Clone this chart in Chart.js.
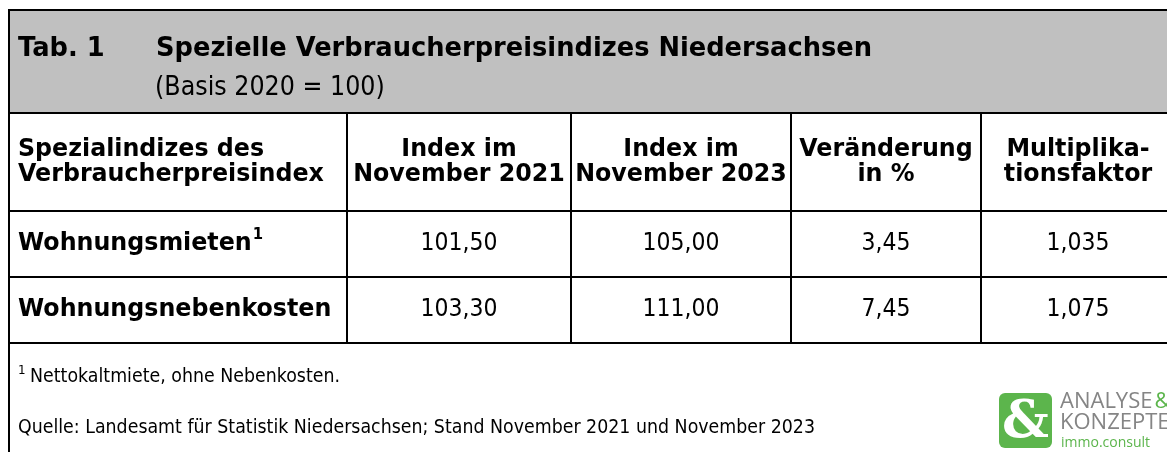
<!DOCTYPE html>
<html lang="de">
<head>
<meta charset="utf-8">
<title>Tab. 1 Spezielle Verbraucherpreisindizes Niedersachsen</title>
<script src="https://cdn.jsdelivr.net/npm/chart.js@4.4.1/dist/chart.umd.min.js"></script>
<style>
  html, body { margin: 0; padding: 0; background: #ffffff; }
  #wrap { width: 1167px; height: 452px; position: relative; overflow: hidden; }
  canvas { display: block; }
</style>
</head>
<body>
<div id="wrap"><canvas id="c" width="1167" height="452"></canvas></div>
<script>
// ---------- data ----------
const tableNo = 'Tab. 1';
const title = 'Spezielle Verbraucherpreisindizes Niedersachsen';
const subtitle = '(Basis 2020 = 100)';
const headerCol1 = ['Spezialindizes des', 'Verbraucherpreisindex'];
const headerCol2 = ['Index im', 'November 2021'];
const headerCol3 = ['Index im', 'November 2023'];
const headerCol4 = ['Veränderung', 'in %'];
const headerCol5 = ['Multiplika-', 'tionsfaktor'];
const categories = ['Wohnungsmieten', 'Wohnungsnebenkosten'];
const categoryMarks = ['1', ''];
const index2021 = [101.50, 103.30];
const index2023 = [105.00, 111.00];
const changePct = [3.45, 7.45];
const multiplier = [1.035, 1.075];
const decimals = [2, 2, 2, 3];
const footnote = 'Nettokaltmiete, ohne Nebenkosten.';
const footnoteMark = '1';
const source = 'Quelle: Landesamt für Statistik Niedersachsen; Stand November 2021 und November 2023';

// ---------- layout (page units) ----------
const W = 1167, H = 452;
const colEdges = [9, 347, 571, 791, 981, 1175];
const rowEdges = [10, 113, 211, 277, 343];

const valueSeries = [index2021, index2023, changePct, multiplier];
const headers = [headerCol1, headerCol2, headerCol3, headerCol4, headerCol5];
const colCenter = c => (colEdges[c] + colEdges[c + 1]) / 2;
const rowCenter = r => (rowEdges[r] + rowEdges[r + 1]) / 2;
const fmt = (v, d) => v.toFixed(d).replace('.', ',');

const FONT = '"DejaVu Sans", Verdana, sans-serif';
let sxBold = 0.9, sxReg = 0.9;

function txt(ctx, s, x, y, size, bold, align, color) {
  ctx.save();
  ctx.font = (bold ? 'bold ' : '') + size + 'px ' + FONT;
  ctx.fillStyle = color || '#000000';
  ctx.textBaseline = 'middle';
  ctx.textAlign = align || 'left';
  ctx.translate(x, y);
  ctx.scale(bold ? sxBold : sxReg, 1);
  ctx.fillText(s, 0, 0);
  const w = ctx.measureText(s).width * (bold ? sxBold : sxReg);
  ctx.restore();
  return w;
}

const tablePlugin = {
  id: 'tablePlugin',
  beforeDraw(chart) {
    const ctx = chart.ctx;
    const xs = chart.scales.x, ys = chart.scales.y;
    const px = v => xs.getPixelForValue(v), py = v => ys.getPixelForValue(v);
    // condense DejaVu to the narrower widths of the reference typeface
    ctx.save();
    ctx.font = 'bold 26px ' + FONT;
    sxBold = 716 / ctx.measureText(title).width;
    ctx.font = '19px ' + FONT;
    sxReg = 797 / ctx.measureText(source).width;
    ctx.restore();

    ctx.save();
    ctx.fillStyle = '#ffffff';
    ctx.fillRect(0, 0, chart.width, chart.height);
    // grey title band
    ctx.fillStyle = '#c0c0c0';
    ctx.fillRect(px(colEdges[0]), py(rowEdges[0]), px(W) - px(colEdges[0]), py(rowEdges[1]) - py(rowEdges[0]));
    // lines
    ctx.strokeStyle = '#000000';
    ctx.lineWidth = 2;
    ctx.beginPath();
    rowEdges.forEach(r => { ctx.moveTo(px(colEdges[0]) - 1, py(r)); ctx.lineTo(px(W), py(r)); });
    ctx.moveTo(px(colEdges[0]), py(rowEdges[0]) - 1); ctx.lineTo(px(colEdges[0]), py(H));
    for (let c = 1; c < colEdges.length - 1; c++) {
      ctx.moveTo(px(colEdges[c]), py(rowEdges[1])); ctx.lineTo(px(colEdges[c]), py(rowEdges[rowEdges.length - 1]));
    }
    ctx.stroke();
    ctx.restore();
  },
  afterDatasetsDraw(chart) {
    const ctx = chart.ctx;
    const xs = chart.scales.x, ys = chart.scales.y;
    const px = v => xs.getPixelForValue(v), py = v => ys.getPixelForValue(v);
    // title
    txt(ctx, tableNo, px(18), py(49), 26, true, 'left');
    txt(ctx, title, px(156), py(49), 26, true, 'left');
    txt(ctx, subtitle, px(155), py(88), 26, false, 'left');
    // headers
    headers.forEach((lines, c) => {
      const x = c === 0 ? px(colEdges[0] + 9) : px(colCenter(c));
      const yc = rowCenter(1);
      txt(ctx, lines[0], x, py(yc - 12.5), 24, true, c === 0 ? 'left' : 'center');
      txt(ctx, lines[1], x, py(yc + 12.5), 24, true, c === 0 ? 'left' : 'center');
    });
    // row labels
    categories.forEach((name, i) => {
      const y = py(rowCenter(i + 2));
      const w = txt(ctx, name, px(colEdges[0] + 9), y, 24, true, 'left');
      if (categoryMarks[i]) txt(ctx, categoryMarks[i], px(colEdges[0] + 10) + w, y - 9, 15, true, 'left');
    });
    // values, positioned by the dataset elements
    chart.data.datasets.forEach((ds, d) => {
      const meta = chart.getDatasetMeta(d);
      meta.data.forEach((el, i) => {
        txt(ctx, fmt(ds.data[i].v, decimals[d]), el.x, el.y, 24, false, 'center');
      });
    });
    // footnotes
    txt(ctx, footnoteMark, px(18), py(371), 13, false, 'left');
    txt(ctx, footnote, px(30), py(377), 19, false, 'left');
    txt(ctx, source, px(18), py(428), 19, false, 'left');
    // logo
    ctx.save();
    const lx = px(999), ly = py(393), lw = 53, lh = 55;
    ctx.fillStyle = '#5cb54c';
    ctx.beginPath();
    if (ctx.roundRect) ctx.roundRect(lx, ly, lw, lh, 6); else ctx.rect(lx, ly, lw, lh);
    ctx.fill();
    ctx.fillStyle = '#ffffff';
    ctx.font = 'bold 52px "DejaVu Serif", serif';
    ctx.textAlign = 'center'; ctx.textBaseline = 'middle';
    ctx.fillText('&', lx + lw / 2, ly + lh / 2 + 3);
    ctx.font = '22px "Open Sans", "DejaVu Sans", sans-serif';
    ctx.textAlign = 'left';
    ctx.fillStyle = '#858585';
    ctx.fillText('ANALYSE', px(1060), py(402));
    const aw = ctx.measureText('ANALYSE').width;
    ctx.fillStyle = '#5cb54c';
    ctx.fillText('&', px(1062) + aw, py(402));
    ctx.fillStyle = '#858585';
    ctx.fillText('KONZEPTE', px(1060), py(423));
    ctx.fillStyle = '#5cb54c';
    ctx.font = '14px "Open Sans", "DejaVu Sans", sans-serif';
    ctx.fillText('immo.consult', px(1061), py(443));
    ctx.restore();
  }
};

const datasets = valueSeries.map((vals, d) => ({
  label: headers[d + 1].join(' '),
  data: vals.map((v, i) => ({ x: colCenter(d + 1), y: rowCenter(i + 2), v: v })),
  pointRadius: 0,
  pointHoverRadius: 0,
  showLine: false
}));

new Chart(document.getElementById('c'), {
  type: 'scatter',
  data: { datasets: datasets },
  options: {
    responsive: false,
    animation: false,
    devicePixelRatio: 1,
    layout: { padding: 0 },
    plugins: { legend: { display: false }, tooltip: { enabled: false }, title: { display: false } },
    events: [],
    scales: {
      x: { type: 'linear', min: 0, max: W, display: false },
      y: { type: 'linear', min: 0, max: H, reverse: true, display: false }
    }
  },
  plugins: [tablePlugin]
});
</script>
</body>
</html>
